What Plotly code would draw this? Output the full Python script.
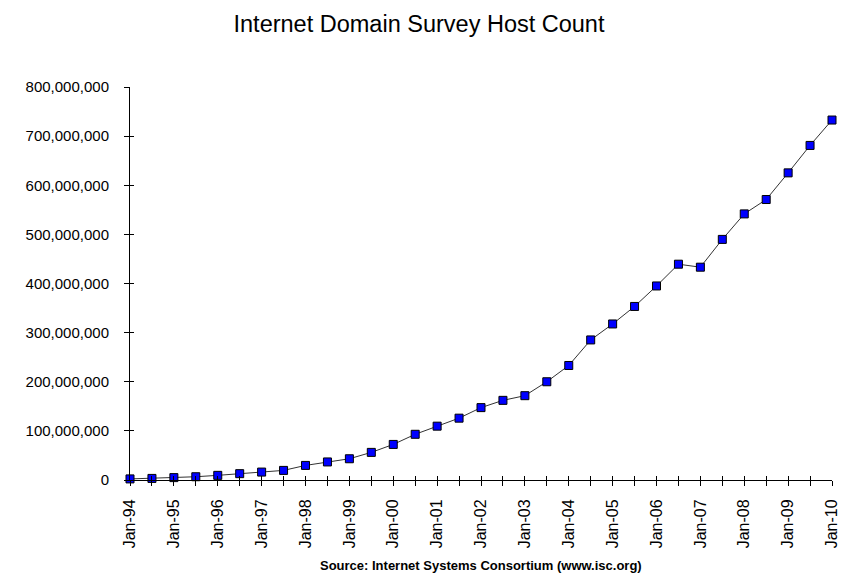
import plotly.graph_objects as go

dates = []
for yr in range(94, 110):
    y2 = f"{yr % 100:02d}"
    dates += [f"Jan-{y2}", f"Jul-{y2}"]
dates.append("Jan-10")

hosts = [2217000, 3212000, 4852000, 6642000, 9472000, 12881000, 16146000, 19540000,
         29670000, 36739000, 43230000, 56218000, 72398092, 93047785, 109574429, 125888197,
         147344723, 162128493, 171638297, 200000000, 233101481, 285139107, 317646084, 353284187,
         394991609, 439286364, 433193199, 489774269, 541677360, 570937778, 625226456, 681064561,
         732740444]

y_ticks = [0, 100000000, 200000000, 300000000, 400000000, 500000000, 600000000, 700000000, 800000000]

xi = list(range(len(dates)))
tick_text = [d if d.startswith("Jan") else "" for d in dates]
FONT = "Liberation Sans, Arial, sans-serif"

fig = go.Figure()
fig.add_trace(go.Scatter(
    x=xi, y=hosts, mode="lines+markers",
    line=dict(color="#333333", width=1),
    marker=dict(symbol="square", size=8, color="#0000FF", line=dict(color="#000000", width=1)),
    cliponaxis=False, showlegend=False,
))

axis_common = dict(showgrid=False, zeroline=False, automargin=False)
fig.update_layout(
    width=841, height=579,
    paper_bgcolor="white", plot_bgcolor="white",
    margin=dict(l=130, r=9, t=87, b=99),
    font=dict(family=FONT, size=13, color="#000000"),
    title=dict(text="Internet Domain Survey Host Count", x=419 / 841, xanchor="center",
               y=1 - 24 / 579, yanchor="middle", font=dict(size=23.5, color="#000000")),
    xaxis=dict(range=[0, len(dates) - 1], tickmode="array", tickvals=xi, ticktext=tick_text,
               tickangle=-90, ticks="outside", ticklen=5, tickcolor="#000000", tickwidth=1,
               showline=True, linecolor="#000000", linewidth=1, ticklabelstandoff=7,
               tickfont=dict(size=16), **axis_common),
    xaxis2=dict(range=[0, len(dates) - 1], overlaying="x", tickmode="array", tickvals=xi,
                ticks="inside", ticklen=4, tickcolor="#000000", tickwidth=1,
                showticklabels=False, showline=False, side="bottom", **axis_common),
    yaxis=dict(range=[0, 800000000], tickmode="array", tickvals=y_ticks,
               tickformat=",d", ticks="outside", ticklen=5, tickcolor="#000000", tickwidth=1,
               showline=True, linecolor="#000000", linewidth=1, ticklabelstandoff=12,
               tickfont=dict(size=15), **axis_common),
    yaxis2=dict(range=[0, 800000000], overlaying="y", tickmode="array", tickvals=y_ticks,
                ticks="inside", ticklen=4, tickcolor="#000000", tickwidth=1,
                showticklabels=False, showline=False, side="left", **axis_common),
)
# invisible trace to activate overlay axes (cross ticks)
fig.add_trace(go.Scatter(x=[xi[0]], y=[hosts[0]], xaxis="x2", yaxis="y2", mode="markers",
                         marker=dict(opacity=0), showlegend=False, hoverinfo="skip"))
fig.add_annotation(text="<b>Source: Internet Systems Consortium (www.isc.org)</b>",
                   xref="paper", yref="paper", x=0.5, y=-(565 - 480) / 393, xanchor="center",
                   yanchor="middle", showarrow=False, font=dict(size=13, color="#000000"))
fig.write_html("out.html", config={"displayModeBar": False},
               post_script="document.body.style.margin='0';")
